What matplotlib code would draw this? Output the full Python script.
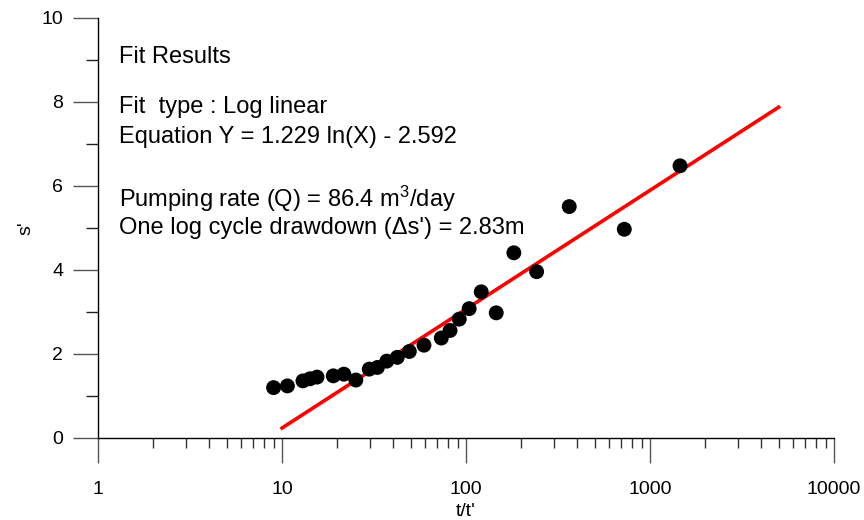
import numpy as np
import matplotlib
matplotlib.use("Agg")
import matplotlib.pyplot as plt
from matplotlib.ticker import FixedLocator, NullFormatter, FixedFormatter

plt.rcParams["font.family"] = ["Liberation Sans", "DejaVu Sans"]
plt.rcParams["mathtext.fontset"] = "custom"
plt.rcParams["mathtext.rm"] = "Liberation Sans"
plt.rcParams["mathtext.it"] = "Liberation Sans"

# recovery data (t/t' vs residual drawdown s')
t_ratio = [9.0, 10.7, 13.0, 14.2, 15.5, 19.0, 21.7, 25.2, 29.8, 33.0, 37.1, 42.3,
           49.2, 59.1, 73.4, 81.9, 91.9, 104, 121, 146, 182, 242, 364, 725, 1456]
s_resid = [1.20, 1.24, 1.36, 1.41, 1.45, 1.48, 1.52, 1.38, 1.64, 1.68, 1.83, 1.92,
           2.06, 2.21, 2.38, 2.56, 2.83, 3.08, 3.48, 2.98, 4.41, 3.96, 5.51, 4.97, 6.48]

# log-linear fit Y = a ln(X) + b
fit_a, fit_b = 1.229, -2.592
fit_range = [10, 5000]

x_major = [1, 10, 100, 1000, 10000]
y_major = [0, 2, 4, 6, 8, 10]
y_minor = [1, 3, 5, 7, 9]

fig = plt.figure(figsize=(8.64, 5.2), dpi=100)
ax = fig.add_axes([98 / 864, 82 / 520, 736 / 864, 420 / 520])

xf = np.geomspace(fit_range[0], fit_range[1], 200)
ax.plot(xf, fit_a * np.log(xf) + fit_b, color="#ff0000", lw=2.6, zorder=3)
ax.scatter(t_ratio, s_resid, s=115, color="black", edgecolors="none", zorder=4)

ax.set_xscale("log")
ax.set_xlim(1, 10000)
ax.set_ylim(0, 10)
ax.xaxis.set_major_locator(FixedLocator(x_major))
ax.xaxis.set_major_formatter(FixedFormatter([str(v) for v in x_major]))
minors = [m * 10 ** d for d in range(4) for m in range(2, 10)]
ax.xaxis.set_minor_locator(FixedLocator(minors))
ax.xaxis.set_minor_formatter(NullFormatter())
ax.yaxis.set_major_locator(FixedLocator(y_major))
ax.yaxis.set_minor_locator(FixedLocator(y_minor))

for side in ("top", "right"):
    ax.spines[side].set_visible(False)
for side in ("left", "bottom"):
    ax.spines[side].set_linewidth(1.0)

ax.tick_params(axis="x", which="major", length=18, width=1, color="#555555",
               pad=13, labelsize=14)
ax.tick_params(axis="x", which="minor", length=7.5, width=1, color="#333333")
ax.tick_params(axis="y", which="major", length=18, width=1, color="#555555",
               pad=7, labelsize=14)
ax.tick_params(axis="y", which="minor", length=9, width=1, color="#222222")

ax.set_xlabel("t/t'", fontsize=14, labelpad=3.5)
ax.set_ylabel("s'", fontsize=14, labelpad=5)

lines = [
    (57, "Fit Results"),
    (107, "Fit  type : Log linear"),
    (137, "Equation Y = 1.229 ln(X) - 2.592"),
    (199, "Pumping rate (Q) = 86.4 m$^{3}$/day"),
    (228, "One log cycle drawdown (\u0394s') = 2.83m"),
]
for py, txt in lines:
    fig.text(119 / 864, 1 - py / 520, txt, fontsize=17, ha="left", va="center")

fig.savefig("out.png", dpi=100)
